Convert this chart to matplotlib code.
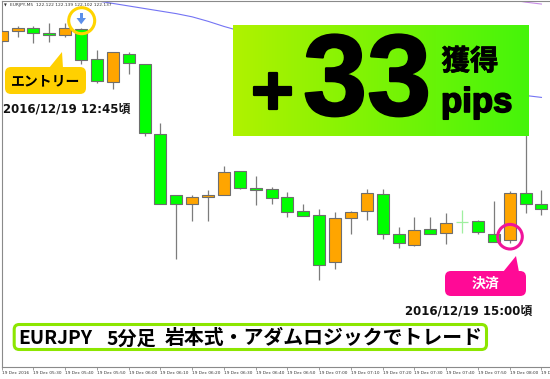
import matplotlib
matplotlib.use("Agg")
import matplotlib.pyplot as plt
import matplotlib.patheffects as pe
import numpy as np
from matplotlib.patches import Rectangle, FancyBboxPatch, Polygon, Circle

# ---- EURJPY M5 candles (price) ----
opens = [122.541, 122.557, 122.561, 122.553, 122.550, 122.560, 122.513, 122.477,
         122.521, 122.505, 122.396, 122.300, 122.286, 122.297, 122.301, 122.338,
         122.312, 122.310, 122.297, 122.275, 122.269, 122.196, 122.264, 122.275,
         122.302, 122.240, 122.222, 122.247, 122.241, 122.258, 122.259, 122.240,
         122.230, 122.303, 122.286]
highs = [122.558, 122.565, 122.565, 122.569, 122.570, 122.562, 122.527, 122.524,
         122.524, 122.505, 122.413, 122.301, 122.301, 122.308, 122.345, 122.338,
         122.330, 122.313, 122.305, 122.287, 122.278, 122.273, 122.276, 122.309,
         122.309, 122.251, 122.266, 122.266, 122.272, 122.277, 122.261, 122.291,
         122.307, 122.410, 122.308]
lows = [122.540, 122.548, 122.538, 122.540, 122.548, 122.505, 122.476, 122.466,
        122.490, 122.393, 122.286, 122.200, 122.260, 122.260, 122.300, 122.310,
        122.284, 122.286, 122.266, 122.268, 122.167, 122.185, 122.240, 122.261,
        122.232, 122.218, 122.220, 122.240, 122.224, 122.241, 122.239, 122.227,
        122.225, 122.272, 122.269]
closes = [122.557, 122.562, 122.553, 122.550, 122.561, 122.512, 122.479, 122.524,
          122.507, 122.398, 122.287, 122.286, 122.297, 122.301, 122.337, 122.311,
          122.308, 122.295, 122.273, 122.268, 122.191, 122.264, 122.273, 122.303,
          122.240, 122.225, 122.246, 122.240, 122.257, 122.258, 122.243, 122.227,
          122.303, 122.287, 122.278]

# moving averages
ma_blue_start = 5
ma_blue = [122.608, 122.604, 122.600, 122.596, 122.592, 122.588, 122.584, 122.579,
           122.572, 122.564, 122.557, 122.549, 122.541, 122.533, 122.526, 122.518,
           122.510, 122.504, 122.497, 122.491, 122.486, 122.482, 122.477, 122.472,
           122.468, 122.465, 122.461, 122.458, 122.456, 122.453]
ma_violet_start = 32
ma_violet = [122.606, 122.602, 122.599]

tick_idx = list(range(0, 35, 2))
tick_labels = ["19 Dec 2016", "19 Dec 05:30", "19 Dec 05:40", "19 Dec 05:50",
               "19 Dec 06:00", "19 Dec 06:10", "19 Dec 06:20", "19 Dec 06:30",
               "19 Dec 06:40", "19 Dec 06:50", "19 Dec 07:00", "19 Dec 07:10",
               "19 Dec 07:20", "19 Dec 07:30", "19 Dec 07:40", "19 Dec 07:50",
               "19 Dec 08:00", "19 Dec 08:10"]

header = "EURJPY,M5  122.122 122.139 122.102 122.137"
profit_num = "33"
profit_sign = "+"
entry_label = "エントリー"
exit_label = "決済"
entry_time = "2016/12/19 12:45頃"
exit_time = "2016/12/19 15:00頃"
banner_parts = ["EURJPY", "5分足", "岩本式・アダムロジックでトレード"]

W, H = 550, 379
fig = plt.figure(figsize=(W / 100, H / 100), dpi=100)
fig.patch.set_facecolor("white")

# ---- chart axes ----
left_px, top_px, bot_px = 1.7, 1.3, 367.3
ax = fig.add_axes([left_px / W, 1 - bot_px / H, 1 - left_px / W, (bot_px - top_px) / H])
ax.set_facecolor("white")
ax.set_xlim(0.0126, 34.54)
ax.set_ylim(122.0309, 122.6033)

bull_c, bear_c, doji_c = "#FFA500", "#00FF00", "#9FEF9F"
edge_c, wick_c = "#6E6E6E", "#7C7C7C"
bw = 0.76
for i, (o, h, l, c) in enumerate(zip(opens, highs, lows, closes)):
    if o == c:
        ax.vlines(i, l, h, color=doji_c, lw=0.9, zorder=2)
        ax.hlines(o, i - bw / 2, i + bw / 2, color=doji_c, lw=0.9, zorder=2)
        continue
    ax.vlines(i, l, h, color=wick_c, lw=0.9, zorder=2)
    lo, hi = min(o, c), max(o, c)
    ax.add_patch(Rectangle((i - bw / 2, lo), bw, hi - lo,
                           facecolor=bull_c if c > o else bear_c,
                           edgecolor=edge_c, lw=0.8, zorder=3))

ax.plot(range(ma_blue_start, ma_blue_start + len(ma_blue)), ma_blue,
        color="#7474F4", lw=0.8, zorder=1)
ax.plot(range(ma_violet_start, ma_violet_start + len(ma_violet)), ma_violet,
        color="#C88CE6", lw=0.8, zorder=1)

for s in ["left", "top", "bottom"]:
    ax.spines[s].set_color("#8A8A8A")
    ax.spines[s].set_linewidth(0.8)
ax.spines["right"].set_visible(False)
ax.set_yticks([])
ax.set_xticks(tick_idx)
ax.set_xticklabels(tick_labels, fontsize=3.1, color="#333333", ha="left")
ax.tick_params(axis="x", length=2, width=0.5, color="#777777", pad=0.8)

# ---- overlay in pixel coordinates ----
ov = fig.add_axes([0, 0, 1, 1], zorder=5)
ov.patch.set_visible(False)
ov.axis("off")

ov.text(4, 5.2, "▼", fontsize=2.6, color="#333333", va="center", ha="left")
ov.text(10, 5.2, header, fontsize=3.2, color="#333333", va="center", ha="left")

# profit panel with horizontal gradient
grad = np.linspace(0, 1, 256)
c0 = np.array([0.69, 0.95, 0.0])
c1 = np.array([0.27, 0.96, 0.04])
img = (c0[None, :] * (1 - grad[:, None]) + c1[None, :] * grad[:, None])[None, :, :]
ov.imshow(img, extent=(233, 529, 136, 25), aspect="auto", zorder=1)

heavy = [pe.withStroke(linewidth=1.6, foreground="black")]
ov.text(272.5, 115, profit_sign, fontsize=52, fontweight="bold",
        family="Liberation Sans", ha="center", va="baseline", color="black",
        zorder=2, path_effects=heavy)
ov.text(303, 115, profit_num, fontsize=83, fontweight="bold",
        family="Liberation Sans", ha="left", va="baseline", color="black",
        zorder=2, path_effects=heavy)
ov.text(470, 70, "獲得", fontsize=20.5, fontweight="bold",
        family="Noto Sans CJK JP", ha="center", va="baseline", color="black",
        zorder=2, path_effects=[pe.withStroke(linewidth=0.5, foreground="black")])
ov.text(441, 112, "pips", fontsize=25, fontweight="bold",
        family="Liberation Sans", ha="left", va="baseline", color="black",
        zorder=2, path_effects=[pe.withStroke(linewidth=1.2, foreground="black")])

# entry marker
ov.add_patch(Circle((81.7, 20.7), 13, fill=False, ec="#FFD400", lw=2.2, zorder=3))
ov.add_patch(Rectangle((79.8, 12.5), 2.8, 6, fc="#5C8FEA", ec="none", zorder=3))
ov.add_patch(Polygon([(76.5, 18), (86, 18), (81.2, 24.3)], closed=True,
                     fc="#5C8FEA", ec="none", zorder=3))

ov.add_patch(FancyBboxPatch((5, 67), 81, 27, boxstyle="round,pad=0,rounding_size=6",
                            fc="#FFD000", ec="none", zorder=3))
ov.add_patch(Polygon([(49, 68), (63, 68), (62, 52)], closed=True,
                     fc="#FFD000", ec="none", zorder=3))
ov.text(45.5, 81, entry_label, fontsize=10, fontweight="bold",
        family="Noto Sans CJK JP", ha="center", va="center", color="black", zorder=4)

ov.text(3, 112.7, entry_time, fontsize=8.5, fontweight="bold",
        family=["DejaVu Sans", "Noto Sans CJK JP"], ha="left", va="baseline",
        color="#111111", zorder=4)

# exit marker
ov.add_patch(Circle((510, 236.7), 12.3, fill=False, ec="#F0149B", lw=2.2, zorder=3))
ov.add_patch(FancyBboxPatch((445, 271), 81, 25, boxstyle="round,pad=0,rounding_size=6",
                            fc="#FF0A96", ec="none", zorder=3))
ov.add_patch(Polygon([(503, 272), (519, 272), (516, 256)], closed=True,
                     fc="#FF0A96", ec="none", zorder=3))
ov.text(485.5, 284, exit_label, fontsize=10, fontweight="bold",
        family="Noto Sans CJK JP", ha="center", va="center", color="white", zorder=4)

ov.text(405, 315, exit_time, fontsize=8.5, fontweight="bold",
        family=["DejaVu Sans", "Noto Sans CJK JP"], ha="left", va="baseline",
        color="#111111", zorder=4)

# title banner
ov.add_patch(FancyBboxPatch((14.2, 324.5), 472.3, 25, boxstyle="round,pad=0,rounding_size=5",
                            fc="white", ec="#8CE600", lw=2.2, zorder=3))
for x0, part, fs in zip([18.5, 106, 165], banner_parts, [13.8, 13.8, 14.3]):
    ov.text(x0, 344.5, part, fontsize=fs, fontweight="bold",
            family="Noto Sans CJK JP", ha="left", va="baseline", color="black", zorder=4)

ov.set_xlim(0, W)
ov.set_ylim(H, 0)

fig.savefig("out.png", dpi=100)
